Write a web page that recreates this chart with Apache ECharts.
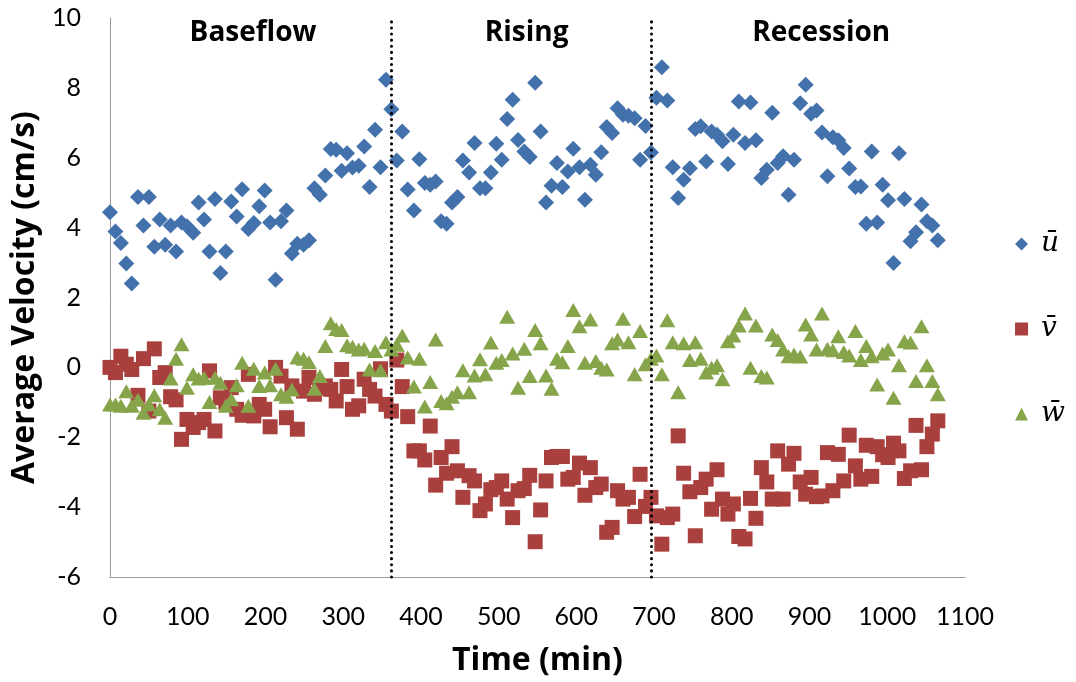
<!DOCTYPE html>
<html>
<head>
<meta charset="utf-8">
<script src="https://cdn.jsdelivr.net/npm/echarts@6/dist/echarts.min.js"></script>
<style>
  html, body { margin: 0; padding: 0; background: #fff; }
  #chart { width: 1076px; height: 682px; }
</style>
</head>
<body>
<div id="chart"></div>
<script>
// sampling times (min)
const times = [
  0, 7, 14, 21, 28, 36, 43, 50, 57, 64, 71, 78, 85, 92, 99, 107, 114, 121, 128, 135,
  142, 149, 156, 163, 170, 178, 185, 192, 199, 206, 213, 220, 227, 234, 241, 249, 256, 263, 270, 277,
  284, 291, 298, 305, 312, 320, 327, 334, 341, 348, 355, 362, 369, 376, 383, 391, 398, 405, 412, 419,
  426, 433, 440, 447, 454, 462, 469, 476, 483, 490, 497, 504, 511, 518, 525, 533, 540, 547, 554, 561,
  568, 575, 582, 589, 596, 604, 611, 618, 625, 632, 639, 646, 653, 660, 667, 675, 682, 689, 696, 703,
  710, 717, 724, 731, 738, 746, 753, 760, 767, 774, 781, 788, 795, 802, 809, 817, 824, 831, 838, 845,
  852, 859, 866, 873, 880, 888, 895, 902, 909, 916, 923, 930, 937, 944, 951, 959, 966, 973, 980, 987,
  994, 1001, 1008, 1015, 1022, 1030, 1037, 1044, 1051, 1058, 1065
]

// u-bar (cm/s)
const uMean = [
  4.44, 3.89, 3.56, 2.97, 2.40, 4.88, 4.06, 4.88, 3.45, 4.23, 3.51, 4.06, 3.32, 4.15, 4.04, 3.85, 4.72, 4.23, 3.32, 4.82,
  2.70, 3.32, 4.75, 4.32, 5.10, 3.96, 4.13, 4.61, 5.06, 4.15, 2.51, 4.18, 4.49, 3.26, 3.54, 3.51, 3.64, 5.13, 4.94, 5.49,
  6.25, 6.23, 5.63, 6.13, 5.72, 5.77, 6.32, 5.16, 6.80, 5.73, 8.23, 7.39, 5.92, 6.75, 5.09, 4.49, 5.96, 5.28, 5.23, 5.32,
  4.18, 4.11, 4.72, 4.88, 5.92, 5.58, 6.42, 5.13, 5.13, 5.58, 6.40, 5.94, 7.11, 7.66, 6.51, 6.18, 6.02, 8.15, 6.75, 4.72,
  5.20, 5.85, 5.16, 5.61, 6.26, 5.73, 4.80, 5.80, 5.51, 6.16, 6.88, 6.71, 7.42, 7.23, 7.20, 7.13, 5.94, 6.91, 6.15, 7.72,
  8.59, 7.64, 5.73, 4.85, 5.37, 5.70, 6.82, 6.90, 5.89, 6.75, 6.66, 6.47, 5.82, 6.66, 7.61, 6.42, 7.58, 6.50, 5.42, 5.66,
  7.29, 5.85, 6.04, 4.94, 5.94, 7.56, 8.09, 7.26, 7.35, 6.72, 5.47, 6.59, 6.50, 6.28, 5.69, 5.16, 5.18, 4.11, 6.18, 4.15,
  5.23, 4.78, 2.99, 6.13, 4.82, 3.61, 3.87, 4.66, 4.18, 4.06, 3.64
]

// v-bar (cm/s)
const vMean = [
  0.00, -0.15, 0.32, 0.09, -0.06, -0.80, 0.25, -1.25, 0.53, -0.29, -0.15, -0.84, -0.93, -2.06, -1.49, -1.72, -1.58, -1.49, -0.10, -1.82,
  -0.87, -1.00, -0.58, -1.20, -1.37, -0.20, -1.39, -1.06, -1.20, -1.70, 0.00, -0.25, -1.44, -0.53, -1.77, -0.68, -0.29, -0.77, -0.60, -0.53,
  -0.63, -0.96, -0.06, -0.55, -1.20, -1.10, -0.34, -0.63, -0.82, -0.04, -1.06, -1.25, 0.21, -0.55, -1.41, -2.39, -2.39, -2.65, -1.68, -3.37,
  -2.58, -3.03, -2.27, -2.96, -3.72, -3.10, -3.25, -4.10, -3.91, -3.50, -3.44, -3.25, -3.77, -4.30, -3.53, -3.47, -3.09, -4.99, -4.08, -3.25,
  -2.58, -2.55, -2.55, -3.20, -3.15, -2.74, -3.66, -2.87, -3.44, -3.34, -4.72, -4.58, -3.53, -3.77, -3.72, -4.27, -3.06, -3.98, -3.72, -4.25,
  -5.06, -4.30, -4.20, -1.96, -3.03, -3.56, -4.82, -3.44, -3.20, -4.06, -2.93, -3.77, -4.20, -3.91, -4.84, -4.91, -3.75, -4.32, -2.87, -3.28,
  -3.77, -2.39, -3.77, -2.77, -2.46, -3.28, -3.63, -3.15, -3.70, -3.68, -2.44, -3.53, -2.49, -3.25, -1.94, -2.82, -3.20, -2.23, -3.12, -2.27,
  -2.50, -2.58, -2.17, -2.39, -3.18, -2.96, -1.66, -2.93, -2.27, -1.91, -1.53
]

// w-bar (cm/s)
const wMean = [
  -1.06, -1.06, -1.10, -0.68, -1.10, -0.93, -1.30, -1.06, -0.80, -1.20, -1.44, -0.32, 0.25, 0.66, -0.58, -0.20, -0.32, -0.30, -0.99, -0.30,
  -0.44, -1.10, -0.91, -0.51, 0.13, -1.10, -0.04, -0.53, -0.15, -0.51, -0.04, -0.77, -0.84, -0.63, 0.28, 0.25, 0.15, -0.61, -0.25, 0.61,
  1.26, 1.10, 1.07, 0.63, 0.59, 0.51, 0.53, -0.06, 0.47, -0.08, 0.72, 0.51, 0.65, 0.91, 0.28, -0.55, 0.25, -1.12, -0.42, 0.80,
  -0.96, -1.03, -0.84, -0.71, -0.08, -0.71, -0.23, 0.23, -0.20, 0.71, 0.13, 0.21, 1.45, 0.40, -0.58, 0.53, -0.25, 1.07, 0.69, -0.23,
  -0.61, 0.25, 0.15, 0.61, 1.64, 1.18, 0.13, 1.37, 0.18, -0.01, -0.06, 0.69, 0.80, 1.39, 0.72, -0.20, 1.04, 0.09, 0.25, 0.34,
  -0.20, 1.35, 0.72, -0.71, 0.69, 0.21, 0.72, 0.25, -0.15, -0.01, 0.06, -0.34, 0.75, 0.91, 1.20, 1.54, -0.01, 1.20, -0.25, -0.29,
  0.94, 0.78, 0.51, 0.32, 0.37, 0.31, 1.23, 0.94, 0.51, 1.54, 0.53, 0.49, 0.89, 0.44, 0.34, 1.04, 0.21, 0.61, 0.32, -0.49,
  0.40, 0.51, -0.87, 0.06, 0.75, 0.71, -0.39, 1.18, 0.06, -0.39, -0.77
]

const seriesNames = ['u\u0304', 'v\u0304', 'w\u0304']
const seriesColors = ['#4371ab', '#a9403e', '#86a44a']
const seriesSymbols = ['diamond', 'rect', 'triangle']

// flow phases
const phaseBreaks = [362, 696]
const phaseNames = ['Baseflow', 'Rising', 'Recession']
const phaseCenters = [184, 536, 915]

const titleFont = '"Open Sans", sans-serif'

const chart = echarts.init(document.getElementById('chart'))

const pairs = (vals) => vals.map((v, i) => [times[i], v])

const option = {
  animation: false,
  textStyle: { fontFamily: 'Lato, sans-serif' },
  grid: { left: 110, right: 111, top: 18, bottom: 104 },
  legend: {
    orient: 'vertical',
    right: 6,
    top: 225,
    itemGap: 57,
    itemWidth: 13,
    itemHeight: 13,
    textStyle: {
      fontFamily: '"DejaVu Serif", serif',
      fontStyle: 'italic',
      fontSize: 28,
      color: '#000',
      padding: [0, 0, 0, 8],
    },
    data: seriesNames,
  },
  xAxis: {
    type: 'value',
    min: 0,
    max: 1100,
    interval: 100,
    name: 'Time (min)',
    nameLocation: 'middle',
    nameGap: 68,
    nameTextStyle: { fontFamily: titleFont, fontSize: 32, fontWeight: 'bold', color: '#000' },
    axisLine: { show: true, onZero: false, lineStyle: { color: '#9a9a9a', width: 1 } },
    axisTick: { show: false },
    splitLine: { show: false },
    axisLabel: { fontSize: 25, color: '#000', margin: 27, formatter: (v) => String(v) },
  },
  yAxis: {
    type: 'value',
    min: -6,
    max: 10,
    interval: 2,
    name: 'Average Velocity (cm/s)',
    nameLocation: 'middle',
    nameGap: 62,
    nameTextStyle: { fontFamily: titleFont, fontSize: 32, fontWeight: 'bold', color: '#000' },
    axisLine: { show: true, onZero: false, lineStyle: { color: '#9a9a9a', width: 1 } },
    axisTick: { show: false },
    splitLine: { show: false },
    axisLabel: { fontSize: 25, color: '#000', margin: 29 },
  },
  series: [
    {
      name: seriesNames[0],
      type: 'scatter',
      symbol: seriesSymbols[0],
      symbolSize: 16,
      itemStyle: { color: seriesColors[0], opacity: 1 },
      data: pairs(uMean),
      markLine: {
        silent: true,
        symbol: 'none',
        label: { show: false },
        lineStyle: { color: '#000', type: [0.1, 6], width: 3, cap: 'round', opacity: 1 },
        data: phaseBreaks.map((t) => ({ xAxis: t })),
      },
    },
    {
      name: seriesNames[1],
      type: 'scatter',
      symbol: seriesSymbols[1],
      symbolSize: 15,
      itemStyle: { color: seriesColors[1], opacity: 1 },
      data: pairs(vMean),
    },
    {
      name: seriesNames[2],
      type: 'scatter',
      symbol: seriesSymbols[2],
      symbolSize: [16, 14],
      itemStyle: { color: seriesColors[2], opacity: 1 },
      data: pairs(wMean),
    },
  ],
}

chart.setOption(option)

// phase titles placed through the chart's own scales
chart.setOption({
  graphic: phaseNames.map((name, i) => {
    const p = chart.convertToPixel({ gridIndex: 0 }, [phaseCenters[i], 9.57])
    return {
      type: 'text',
      x: p[0],
      y: p[1],
      style: {
        text: name,
        fontFamily: titleFont,
        fontSize: 28,
        fontWeight: 'bold',
        fill: '#000',
        align: 'center',
        verticalAlign: 'middle',
      },
    }
  }),
})
</script>
</body>
</html>
